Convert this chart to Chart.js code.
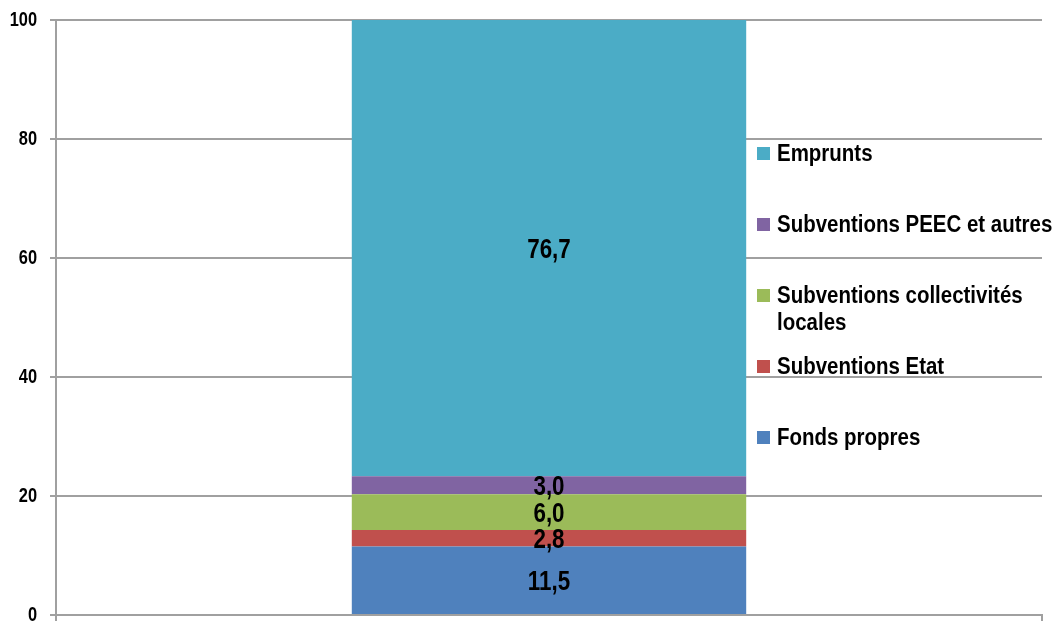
<!DOCTYPE html>
<html>
<head>
<meta charset="utf-8">
<script src="https://cdn.jsdelivr.net/npm/chart.js@4/dist/chart.umd.min.js"></script>
<style>
  html, body { margin: 0; padding: 0; background: #fff; }
  #wrap { position: relative; width: 1059px; height: 621px; overflow: hidden; }
  #c { position: absolute; left: 0; top: 0; }
  #legend { position: absolute; left: 757px; top: 0; width: 302px; height: 621px; pointer-events: none; }
  .item { position: absolute; left: 0; width: 302px; font: bold 23px 'Liberation Sans', Arial, sans-serif; line-height: 27px; color: #000; }
  .sw { position: absolute; left: 0; top: 7px; width: 13px; height: 13px; }
  .tx { position: absolute; left: 20px; top: 0; width: 322px; transform: scaleX(0.89); transform-origin: 0 0; }
</style>
</head>
<body>
<div id="wrap">
  <canvas id="c" width="1059" height="621"></canvas>
  <div id="legend"></div>
</div>
<script>
// ---- data ----
const categories = [''];
const seriesNames = ['Fonds propres', 'Subventions Etat', 'Subventions collectivités locales', 'Subventions PEEC et autres', 'Emprunts'];
const fondsPropres = [11.5];
const subventionsEtat = [2.8];
const subventionsCollectivites = [6.0];
const subventionsPeec = [3.0];
const emprunts = [76.7];
const yTicks = [0, 20, 40, 60, 80, 100];
const seriesColors = ['#4F81BD', '#C0504D', '#9BBB59', '#8064A2', '#4BACC6'];

const seriesValues = [fondsPropres, subventionsEtat, subventionsCollectivites, subventionsPeec, emprunts];
const FONT = "'Liberation Sans', Arial, sans-serif";

const datasets = seriesNames.map((name, i) => ({
  label: name,
  data: seriesValues[i],
  backgroundColor: seriesColors[i],
  borderWidth: 0,
  barPercentage: 0.4,
  categoryPercentage: 1.0
}));

// condensed text helper
function narrowText(ctx, text, x, y, sx, align) {
  ctx.save();
  ctx.translate(x, y);
  ctx.scale(sx, 1);
  ctx.textAlign = align;
  ctx.fillText(text, 0, 0);
  ctx.restore();
}

const dataLabels = {
  id: 'dataLabels',
  afterDatasetsDraw(chart) {
    const ctx = chart.ctx;
    ctx.save();
    ctx.font = 'bold 28px ' + FONT;
    ctx.fillStyle = '#000';
    ctx.textBaseline = 'middle';
    chart.data.datasets.forEach((ds, i) => {
      const meta = chart.getDatasetMeta(i);
      meta.data.forEach((bar, j) => {
        const v = ds.data[j];
        const yc = (bar.y + bar.base) / 2;
        narrowText(ctx, v.toFixed(1).replace('.', ','), bar.x, yc + 2, 0.8, 'center');
      });
    });
    ctx.restore();
  }
};

const yLabels = {
  id: 'yLabels',
  afterDraw(chart) {
    const ctx = chart.ctx;
    const s = chart.scales.y;
    ctx.save();
    ctx.font = 'bold 20px ' + FONT;
    ctx.fillStyle = '#000';
    ctx.textBaseline = 'middle';
    yTicks.forEach(v => {
      narrowText(ctx, String(v), 37, s.getPixelForValue(v), 0.82, 'right');
    });
    ctx.restore();
  }
};

new Chart(document.getElementById('c'), {
  type: 'bar',
  data: { labels: categories, datasets },
  options: {
    responsive: false,
    animation: false,
    layout: { padding: { top: 20, right: 17, bottom: 0, left: 0 } },
    plugins: { legend: { display: false }, tooltip: { enabled: false } },
    scales: {
      x: {
        stacked: true,
        offset: true,
        grid: { display: true, drawOnChartArea: false, drawTicks: true, tickLength: 6, color: '#a0a0a0', lineWidth: 2, offset: true },
        border: { display: true, color: '#a0a0a0', width: 2 },
        ticks: { display: false },
        afterFit(s) { s.height = 6; }
      },
      y: {
        stacked: true,
        min: 0,
        max: 100,
        afterBuildTicks(s) { s.ticks = yTicks.map(v => ({ value: v })); },
        grid: { color: '#a0a0a0', lineWidth: 2, tickLength: 6 },
        border: { display: true, color: '#a0a0a0', width: 2 },
        ticks: { color: 'rgba(0,0,0,0)', padding: 0, font: { family: FONT, size: 20, weight: 'bold', lineHeight: 0.2 } },
        afterFit(s) { s.width = 56; }
      }
    }
  },
  plugins: [dataLabels, yLabels]
});

// HTML legend (reverse order, top to bottom)
const legendEl = document.getElementById('legend');
const centers0 = 153, step = 71.2;
for (let k = 0; k < seriesNames.length; k++) {
  const i = seriesNames.length - 1 - k;
  const item = document.createElement('div');
  item.className = 'item';
  item.style.top = (centers0 - 13.5 + k * step) + 'px';
  const sw = document.createElement('div');
  sw.className = 'sw';
  sw.style.background = seriesColors[i];
  const tx = document.createElement('div');
  tx.className = 'tx';
  tx.textContent = seriesNames[i];
  item.appendChild(sw);
  item.appendChild(tx);
  legendEl.appendChild(item);
}
</script>
</body>
</html>
